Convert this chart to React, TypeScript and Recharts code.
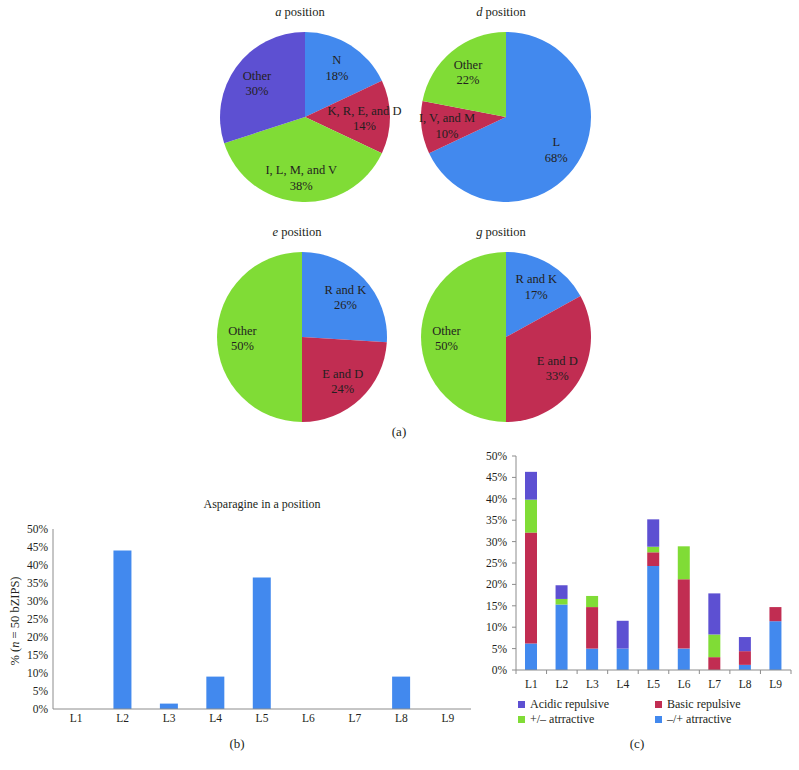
import { PieChart, Pie, Cell, BarChart, Bar, XAxis, YAxis } from 'recharts';

const BLUE = '#4289ee';
const RED = '#c12d52';
const GREEN = '#80dc36';
const PURPLE = '#5d50d2';
const INK = '#231f20';
const AXIS = '#8c8c8c';
const FONT = 'Times New Roman, Liberation Serif, DejaVu Serif, serif';

// (a) pie slices, clockwise from 12 o'clock
const aNames = ['N', 'K, R, E, and D', 'I, L, M, and V', 'Other'];
const aValues = [18, 14, 38, 30];
const aColors = [BLUE, RED, GREEN, PURPLE];

const dNames = ['L', 'I, V, and M', 'Other'];
const dValues = [68, 10, 22];
const dColors = [BLUE, RED, GREEN];

const eNames = ['R and K', 'E and D', 'Other'];
const eValues = [26, 24, 50];
const eColors = [BLUE, RED, GREEN];

const gNames = ['R and K', 'E and D', 'Other'];
const gValues = [17, 33, 50];
const gColors = [BLUE, RED, GREEN];

// (b) and (c) categories
const heptads = ['L1', 'L2', 'L3', 'L4', 'L5', 'L6', 'L7', 'L8', 'L9'];
const asparagine = [0, 44, 1.5, 9, 36.5, 0, 0, 9, 0];

// (c) stacked, bottom to top
const minusPlus = [6.2, 15.3, 5, 5, 24.3, 5, 0, 1.2, 11.4];
const basicRep = [25.9, 0, 9.7, 0, 3.2, 16.2, 3, 3.2, 3.3];
const plusMinus = [7.7, 1.3, 2.6, 0, 1.3, 7.7, 5.3, 0, 0];
const acidicRep = [6.5, 3.2, 0, 6.5, 6.4, 0, 9.6, 3.3, 0];

const pctTicks = [0, 5, 10, 15, 20, 25, 30, 35, 40, 45, 50];

const toSlices = (names: string[], values: number[]) =>
  names.map((name, i) => ({ name, value: values[i] }));

const bData = heptads.map((name, i) => ({ name, asn: asparagine[i] }));
const cData = heptads.map((name, i) => ({
  name,
  minusPlus: minusPlus[i],
  basicRep: basicRep[i],
  plusMinus: plusMinus[i],
  acidicRep: acidicRep[i],
}));

const RAD = Math.PI / 180;

const pieLabel = (props: any) => {
  const { cx, cy, midAngle, outerRadius, value } = props;
  const name = props.name ?? props.payload?.name;
  const r = outerRadius * 0.7;
  const x = cx + r * Math.cos(-midAngle * RAD);
  const y = cy + r * Math.sin(-midAngle * RAD);
  return (
    <text x={x} y={y} textAnchor="middle" fontSize={12.5} fill={INK} fontFamily={FONT}>
      <tspan x={x} dy="-0.2em">{name}</tspan>
      <tspan x={x} dy="1.25em">{value}%</tspan>
    </text>
  );
};

const pies = [
  { title: 'a', data: toSlices(aNames, aValues), colors: aColors, cx: 300, cy: 112 },
  { title: 'd', data: toSlices(dNames, dValues), colors: dColors, cx: 501, cy: 112 },
  { title: 'e', data: toSlices(eNames, eValues), colors: eColors, cx: 297, cy: 332 },
  { title: 'g', data: toSlices(gNames, gValues), colors: gColors, cx: 501, cy: 332 },
];

// chart (c) plot geometry
const C_LEFT = 470;
const C_YAXIS = 46;
const C_RIGHT_MARGIN = 8;
const C_BAND = (799 - C_LEFT - C_YAXIS - C_RIGHT_MARGIN) / heptads.length;

const BoundaryTick = (props: any) => {
  const { x, y, payload, index } = props;
  const axisY = y - 10;
  const half = C_BAND / 2;
  return (
    <g>
      <line x1={x - half} x2={x - half} y1={axisY} y2={axisY + 4} stroke={AXIS} />
      {index === heptads.length - 1 && (
        <line x1={x + half} x2={x + half} y1={axisY} y2={axisY + 4} stroke={AXIS} />
      )}
      <text x={x} y={y} dy="0.71em" textAnchor="middle" fontSize={11.5} fill={INK} fontFamily={FONT}>
        {payload.value}
      </text>
    </g>
  );
};

const cSeries = [
  { key: 'minusPlus', name: '–/+ atrractive', color: BLUE },
  { key: 'basicRep', name: 'Basic repulsive', color: RED },
  { key: 'plusMinus', name: '+/– atrractive', color: GREEN },
  { key: 'acidicRep', name: 'Acidic repulsive', color: PURPLE },
];
const legendOrder = ['acidicRep', 'basicRep', 'plusMinus', 'minusPlus'];

const tickStyle = { fontSize: 11.5, fill: INK, fontFamily: FONT };

export default function App() {
  return (
    <div
      style={{
        position: 'absolute',
        left: 0,
        top: 0,
        width: 799,
        height: 770,
        background: '#fff',
        fontFamily: FONT,
        color: INK,
        overflow: 'hidden',
      }}
    >
      <div style={{ position: 'absolute', left: 0, top: 0 }}>
        <PieChart width={799} height={430}>
          {pies.map((p) => (
            <Pie
              key={p.title}
              data={p.data}
              dataKey="value"
              nameKey="name"
              cx={p.cx}
              cy={p.cy}
              outerRadius={85}
              startAngle={90}
              endAngle={-270}
              stroke="none"
              label={pieLabel}
              labelLine={false}
              isAnimationActive={false}
            >
              {p.data.map((d, i) => (
                <Cell key={d.name} fill={p.colors[i]} />
              ))}
            </Pie>
          ))}
        </PieChart>
      </div>
      {pies.map((p) => (
        <div
          key={p.title + 't'}
          style={{
            position: 'absolute',
            left: p.cx - 60,
            width: 120,
            top: p.cy - 107,
            textAlign: 'center',
            fontSize: 12.5,
            lineHeight: '14px',
          }}
        >
          <i>{p.title}</i> position
        </div>
      ))}
      <div style={{ position: 'absolute', left: 379, width: 40, top: 424, textAlign: 'center', fontSize: 13 }}>
        (a)
      </div>

      {/* (b) */}
      <div
        style={{ position: 'absolute', left: 53, width: 418, top: 497, textAlign: 'center', fontSize: 12 }}
      >
        Asparagine in a position
      </div>
      <div
        style={{
          position: 'absolute',
          left: 15 - 60,
          top: 621 - 8,
          width: 120,
          textAlign: 'center',
          fontSize: 12.5,
          lineHeight: '16px',
          transform: 'rotate(-90deg)',
          whiteSpace: 'nowrap',
        }}
      >
        % (<i>n</i> = 50 bZIPS)
      </div>
      <div style={{ position: 'absolute', left: 0, top: 490 }}>
        <BarChart width={480} height={250} data={bData} margin={{ top: 39, right: 9, bottom: 0, left: 0 }} barSize={18}>
          <XAxis
            dataKey="name"
            height={31}
            tickLine={false}
            tickSize={3}
            tickMargin={2}
            tick={tickStyle}
            axisLine={{ stroke: AXIS }}
          />
          <YAxis
            width={53}
            domain={[0, 50]}
            ticks={pctTicks}
            interval={0}
            tickFormatter={(v) => `${v}%`}
            tickLine={false}
            tickSize={3}
            tickMargin={2}
            tick={tickStyle}
            axisLine={{ stroke: AXIS }}
          />
          <Bar dataKey="asn" fill={BLUE} isAnimationActive={false} />
        </BarChart>
      </div>
      <div style={{ position: 'absolute', left: 217, width: 40, top: 736, textAlign: 'center', fontSize: 13 }}>
        (b)
      </div>

      {/* (c) */}
      <div style={{ position: 'absolute', left: C_LEFT, top: 440 }}>
        <BarChart
          width={799 - C_LEFT}
          height={250}
          data={cData}
          margin={{ top: 16, right: C_RIGHT_MARGIN, bottom: 0, left: 0 }}
          barSize={12}
        >
          <XAxis
            dataKey="name"
            height={20}
            tickLine={false}
            tickSize={4}
            tickMargin={6}
            tick={<BoundaryTick />}
            axisLine={{ stroke: AXIS }}
          />
          <YAxis
            width={C_YAXIS}
            domain={[0, 50]}
            ticks={pctTicks}
            interval={0}
            tickFormatter={(v) => `${v}%`}
            tickLine={{ stroke: AXIS }}
            tickSize={4}
            tickMargin={5}
            tick={tickStyle}
            axisLine={{ stroke: AXIS }}
          />
          {cSeries.map((s) => (
            <Bar key={s.key} dataKey={s.key} name={s.name} stackId="c" fill={s.color} isAnimationActive={false} />
          ))}
        </BarChart>
      </div>
      {legendOrder.map((k, i) => {
        const s = cSeries.find((c) => c.key === k)!;
        const col = i % 2;
        const row = Math.floor(i / 2);
        return (
          <div
            key={k}
            style={{
              position: 'absolute',
              left: col === 0 ? 518 : 655,
              top: 697 + row * 15,
              fontSize: 12,
              lineHeight: '14px',
              whiteSpace: 'nowrap',
              display: 'flex',
              alignItems: 'center',
            }}
          >
            <span style={{ display: 'inline-block', width: 7, height: 7, background: s.color, marginRight: 5 }} />
            {s.name}
          </div>
        );
      })}
      <div style={{ position: 'absolute', left: 617, width: 40, top: 736, textAlign: 'center', fontSize: 13 }}>
        (c)
      </div>
    </div>
  );
}
